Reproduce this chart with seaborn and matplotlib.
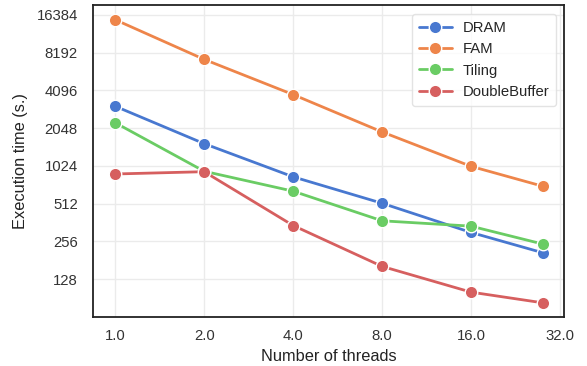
import numpy as np
import pandas as pd
import matplotlib
matplotlib.use("Agg")
import matplotlib.pyplot as plt
import seaborn as sns
from matplotlib.ticker import FixedLocator, FixedFormatter, NullLocator

threads = [1, 2, 4, 8, 16, 28]
dram = [3060, 1540, 838, 516, 302, 208]
fam = [14970, 7230, 3790, 1910, 1016, 705]
tiling = [2260, 928, 644, 374, 339, 244]
doublebuffer = [883, 921, 343, 162, 101, 83]
series_names = ["DRAM", "FAM", "Tiling", "DoubleBuffer"]
x_ticks = [1, 2, 4, 8, 16, 32]
x_ticklabels = ["1.0", "2.0", "4.0", "8.0", "16.0", "32.0"]
y_ticks = [128, 256, 512, 1024, 2048, 4096, 8192, 16384]

rows = []
for name, vals in zip(series_names, [dram, fam, tiling, doublebuffer]):
    for t, v in zip(threads, vals):
        rows.append({"threads": t, "time": v, "method": name})
df = pd.DataFrame(rows)

sns.set_theme(style="whitegrid", palette="muted")
plt.rcParams["font.family"] = ["Liberation Sans", "DejaVu Sans"]

fig = plt.figure(figsize=(5.87, 3.66), dpi=100)
ax = fig.add_axes([93/587, 1-317/366, (564-93)/587, (317-5)/366])

sns.lineplot(data=df, x="threads", y="time", hue="method", hue_order=series_names,
             marker="o", markersize=9, linewidth=2.0, markeredgecolor="white",
             markeredgewidth=1.0, ax=ax)

ax.set_xscale("log", base=2)
ax.set_yscale("log", base=2)
ax.set_xlim(2**-0.25, 2**5.045)
ax.set_ylim(2**6.0, 2**14.26)
ax.xaxis.set_major_locator(FixedLocator(x_ticks))
ax.xaxis.set_major_formatter(FixedFormatter(x_ticklabels))
ax.xaxis.set_minor_locator(NullLocator())
ax.yaxis.set_major_locator(FixedLocator(y_ticks))
ax.yaxis.set_major_formatter(FixedFormatter([str(v) for v in y_ticks]))
ax.yaxis.set_minor_locator(NullLocator())
ax.tick_params(axis="x", labelsize=10.7, colors="#333333", pad=2.5)
ax.tick_params(axis="y", labelsize=10.7, colors="#333333", pad=5)
ax.set_xlabel("Number of threads", fontsize=11.8, color="#222222", labelpad=4.5)
ax.set_ylabel("Execution time (s.)", fontsize=11.8, color="#222222", labelpad=6)
ax.grid(True, color="#ebebeb", linewidth=1.0)
for s in ax.spines.values():
    s.set_color("#222222")
    s.set_linewidth(1.3)

leg = ax.legend(loc="upper right", fontsize=10.7, frameon=True, borderpad=0.45,
                handlelength=2.2, handletextpad=0.74, labelspacing=0.5,
                borderaxespad=0, bbox_to_anchor=(0.983, 0.971))
leg.get_frame().set_edgecolor("#dddddd")

fig.savefig("out.png", dpi=100)
